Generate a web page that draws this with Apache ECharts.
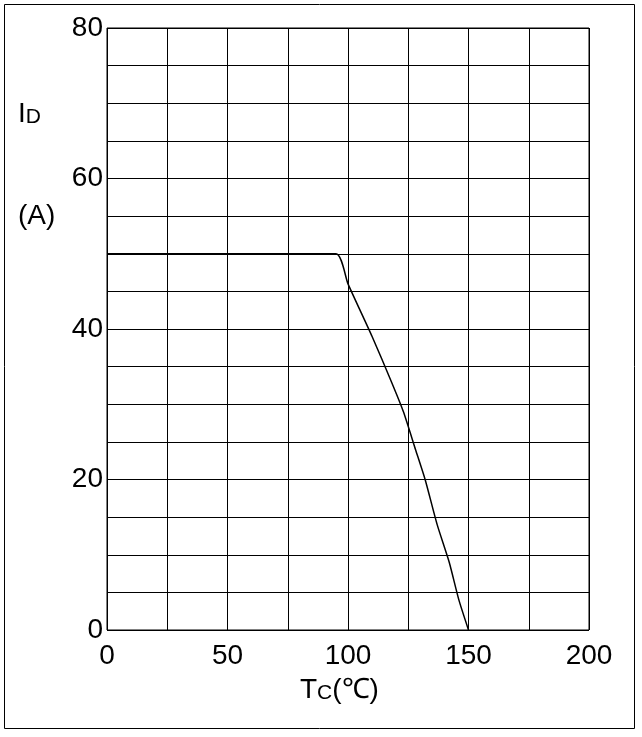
<!DOCTYPE html>
<html><head><meta charset="utf-8">
<script src="https://cdn.jsdelivr.net/npm/echarts@6/dist/echarts.min.js"></script>
<style>html,body{margin:0;padding:0;background:#fff}#c{width:642px;height:737px}</style>
</head><body><div id="c"></div>
<script>
const tempC = [0, 95, 100, 110, 118, 123, 128, 132, 137, 142, 146, 150];
const currentA = [50, 50, 46, 39, 33, 29, 24, 20, 14, 9, 4, 0];
const xTicks = [0, 50, 100, 150, 200];
const yTicks = [0, 20, 40, 60, 80];
const chart = echarts.init(document.getElementById('c'));
const F = 'Arial, "Liberation Sans", sans-serif';
chart.setOption({
  animation: false,
  grid: {left: 107, right: 53, top: 28, bottom: 107, show: true, borderColor: '#000', borderWidth: 1},
  xAxis: {type: 'value', min: 0, max: 200, interval: 25,
    axisLine: {show: false}, axisTick: {show: false},
    splitLine: {lineStyle: {color: '#000', width: 1}},
    axisLabel: {color: '#000', fontSize: 28, fontFamily: F, margin: 12,
      formatter: v => xTicks.includes(v) ? String(v) : ''}},
  yAxis: {type: 'value', min: 0, max: 80, interval: 5,
    axisLine: {show: false}, axisTick: {show: false},
    splitLine: {lineStyle: {color: '#000', width: 1}},
    axisLabel: {color: '#000', fontSize: 28, fontFamily: F, margin: 4,
      formatter: v => yTicks.includes(v) ? String(v) : ''}},
  series: [{type: 'line', data: tempC.map((t, i) => [t, currentA[i]]), symbol: 'none', smooth: 0.2,
    lineStyle: {color: '#000', width: 1.5}}],
  graphic: [
    {type: 'rect', shape: {x: 4.5, y: 4.5, width: 630, height: 724}, style: {fill: 'none', stroke: '#000', lineWidth: 1}},
    {type: 'text', left: 18, top: 100, style: {text: '{a|I}{b|D}', rich: {a: {fontSize: 28, fontFamily: F, fill: '#000'}, b: {fontSize: 21, fontFamily: F, fill: '#000', padding: [6, 0, 0, 0]}}}},
    {type: 'text', left: 18, top: 202, style: {text: '(A)', fontSize: 28, fontFamily: F, fill: '#000'}},
    {type: 'text', left: 300, top: 676, style: {text: '{a|T}{b|C}{a|(℃)}', rich: {a: {fontSize: 28, fontFamily: F, fill: '#000'}, b: {fontSize: 21, fontFamily: F, fill: '#000', padding: [6, 0, 0, 0]}}}}
  ]
});
</script></body></html>
